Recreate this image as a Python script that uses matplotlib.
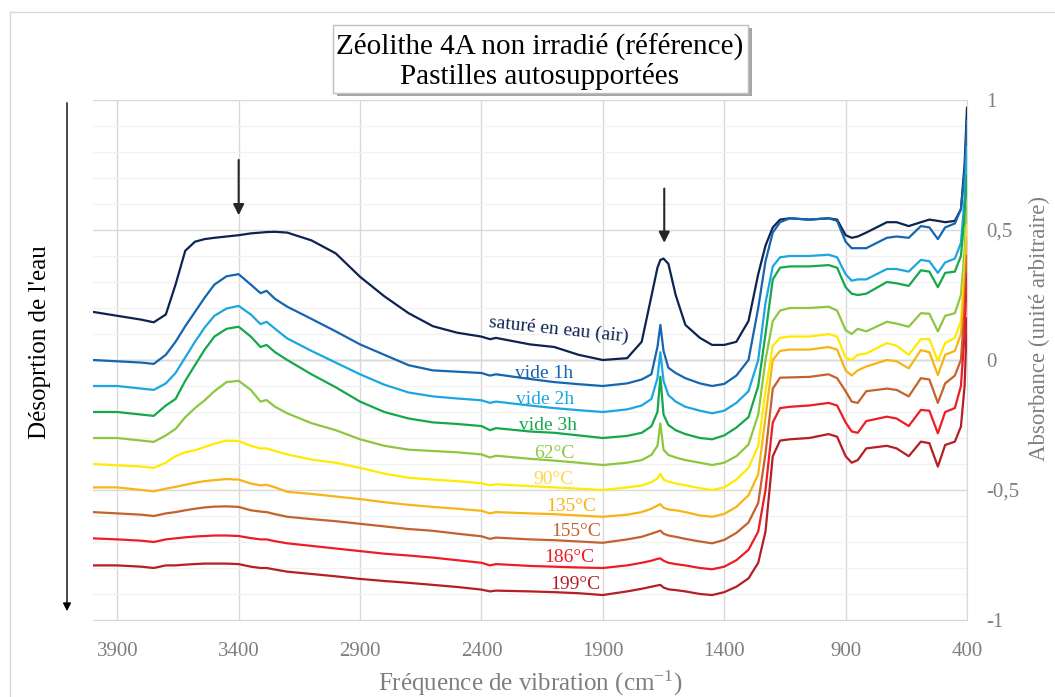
import numpy as np
import matplotlib.pyplot as plt
from matplotlib.patches import Rectangle
from matplotlib.lines import Line2D

plt.rcParams['font.family'] = ['Liberation Serif', 'DejaVu Serif']
plt.rcParams['mathtext.fontset'] = 'stix'

# ===== data (cm-1 / arbitrary absorbance) =====
wavenumber = [4000, 3900, 3800, 3750, 3700, 3660, 3620, 3580, 3540, 3500,
              3450, 3400, 3350, 3310, 3285, 3250, 3200, 3100, 3000, 2900,
              2800, 2700, 2600, 2500, 2400, 2365, 2340, 2200, 2100, 2000,
              1900, 1800, 1740, 1700, 1675, 1663, 1650, 1630, 1600, 1560,
              1500, 1450, 1400, 1350, 1300, 1260, 1230, 1200, 1170, 1130,
              1050, 970, 935, 900, 875, 850, 815, 730, 690, 640,
              590, 555, 520, 490, 450, 425, 410, 400]

sature = [0.185, 0.17, 0.155, 0.145, 0.175, 0.29, 0.42, 0.455, 0.465, 0.47,
          0.475, 0.48, 0.487, 0.49, 0.492, 0.493, 0.49, 0.46, 0.41, 0.32,
          0.245, 0.18, 0.13, 0.105, 0.09, 0.08, 0.085, 0.06, 0.05, 0.02,
          0.0, 0.007, 0.07, 0.245, 0.355, 0.385, 0.39, 0.37, 0.25, 0.135,
          0.085, 0.058, 0.058, 0.07, 0.15, 0.33, 0.44, 0.51, 0.54, 0.545,
          0.54, 0.545, 0.54, 0.48, 0.47, 0.475, 0.49, 0.53, 0.53, 0.515,
          0.53, 0.54, 0.535, 0.53, 0.535, 0.58, 0.75, 0.97]

vide_1h = [0.0, -0.005, -0.01, -0.015, 0.02, 0.07, 0.13, 0.185, 0.24, 0.29,
           0.322, 0.33, 0.29, 0.257, 0.266, 0.235, 0.205, 0.158, 0.11, 0.06,
           0.02, -0.02, -0.04, -0.045, -0.05, -0.06, -0.055, -0.073, -0.085, -0.093,
           -0.10, -0.09, -0.075, -0.055, 0.05, 0.135, 0.035, -0.03, -0.05, -0.07,
           -0.09, -0.10, -0.092, -0.06, 0.0, 0.2, 0.38, 0.49, 0.53, 0.545,
           0.54, 0.545, 0.535, 0.455, 0.43, 0.43, 0.43, 0.47, 0.475, 0.47,
           0.515, 0.51, 0.465, 0.51, 0.525, 0.58, 0.72, 0.92]

vide_2h = [-0.10, -0.10, -0.11, -0.115, -0.09, -0.05, 0.01, 0.07, 0.125, 0.17,
           0.198, 0.208, 0.175, 0.138, 0.147, 0.12, 0.083, 0.035, -0.01, -0.055,
           -0.095, -0.125, -0.14, -0.148, -0.155, -0.165, -0.16, -0.175, -0.185, -0.193,
           -0.20, -0.19, -0.175, -0.15, -0.07, 0.03, -0.08, -0.135, -0.16, -0.18,
           -0.195, -0.205, -0.195, -0.165, -0.12, 0.0, 0.22, 0.36, 0.395, 0.40,
           0.40, 0.405, 0.395, 0.33, 0.305, 0.31, 0.31, 0.35, 0.35, 0.34,
           0.385, 0.38, 0.335, 0.375, 0.39, 0.45, 0.62, 0.82]

vide_3h = [-0.20, -0.20, -0.21, -0.215, -0.175, -0.15, -0.08, -0.02, 0.04, 0.09,
           0.12, 0.128, 0.09, 0.05, 0.058, 0.03, 0.0, -0.055, -0.105, -0.16,
           -0.2, -0.225, -0.24, -0.246, -0.254, -0.27, -0.262, -0.275, -0.28, -0.29,
           -0.30, -0.292, -0.28, -0.255, -0.2, -0.064, -0.21, -0.25, -0.27, -0.285,
           -0.30, -0.305, -0.29, -0.26, -0.22, -0.1, 0.1, 0.31, 0.355, 0.36,
           0.36, 0.365, 0.355, 0.28, 0.255, 0.25, 0.255, 0.30, 0.295, 0.285,
           0.345, 0.34, 0.28, 0.335, 0.34, 0.4, 0.55, 0.71]

t_62 = [-0.30, -0.30, -0.31, -0.315, -0.29, -0.265, -0.22, -0.185, -0.155, -0.12,
        -0.085, -0.08, -0.115, -0.16, -0.154, -0.18, -0.205, -0.243, -0.27, -0.305,
        -0.33, -0.345, -0.35, -0.355, -0.363, -0.375, -0.368, -0.38, -0.387, -0.395,
        -0.404, -0.395, -0.385, -0.365, -0.33, -0.244, -0.345, -0.365, -0.375, -0.385,
        -0.395, -0.404, -0.395, -0.37, -0.325, -0.21, 0.0, 0.15, 0.19, 0.2,
        0.2, 0.205, 0.19, 0.115, 0.10, 0.12, 0.11, 0.147, 0.14, 0.128,
        0.18, 0.178, 0.11, 0.17, 0.18, 0.25, 0.42, 0.59]

t_90 = [-0.40, -0.405, -0.41, -0.415, -0.395, -0.37, -0.355, -0.347, -0.335, -0.322,
        -0.31, -0.312, -0.33, -0.34, -0.34, -0.35, -0.363, -0.383, -0.395, -0.415,
        -0.437, -0.453, -0.46, -0.466, -0.474, -0.482, -0.478, -0.485, -0.49, -0.495,
        -0.50, -0.49, -0.483, -0.47, -0.455, -0.438, -0.46, -0.468, -0.475, -0.482,
        -0.493, -0.50, -0.49, -0.46, -0.415, -0.33, -0.12, 0.055, 0.085, 0.09,
        0.09, 0.10, 0.09, 0.01, 0.0, 0.02, 0.025, 0.065, 0.055, 0.02,
        0.08, 0.08, -0.004, 0.065, 0.085, 0.15, 0.35, 0.52]

t_135 = [-0.49, -0.49, -0.50, -0.505, -0.495, -0.488, -0.48, -0.472, -0.466, -0.462,
         -0.458, -0.46, -0.475, -0.482, -0.48, -0.49, -0.507, -0.515, -0.525, -0.535,
         -0.547, -0.557, -0.565, -0.572, -0.58, -0.59, -0.585, -0.59, -0.593, -0.598,
         -0.603, -0.595, -0.585, -0.572, -0.56, -0.554, -0.568, -0.575, -0.578, -0.585,
         -0.598, -0.603, -0.592, -0.565, -0.52, -0.44, -0.22, 0.0, 0.035, 0.04,
         0.04, 0.05, 0.04, -0.04, -0.06, -0.04, -0.025, 0.0, -0.005, -0.032,
         0.038, 0.03, -0.058, 0.02, 0.035, 0.1, 0.3, 0.47]

t_155 = [-0.585, -0.59, -0.595, -0.6, -0.59, -0.585, -0.578, -0.572, -0.567, -0.564,
         -0.563, -0.565, -0.578, -0.583, -0.585, -0.593, -0.603, -0.612, -0.62, -0.63,
         -0.64, -0.65, -0.657, -0.668, -0.678, -0.688, -0.683, -0.69, -0.693, -0.698,
         -0.703, -0.69, -0.68, -0.668, -0.66, -0.656, -0.668, -0.675, -0.68, -0.688,
         -0.698, -0.705, -0.692, -0.665, -0.625, -0.55, -0.36, -0.11, -0.068, -0.067,
         -0.065, -0.055, -0.07, -0.12, -0.16, -0.165, -0.12, -0.11, -0.115, -0.14,
         -0.07, -0.075, -0.165, -0.09, -0.06, 0.0, 0.2, 0.4]

t_186 = [-0.686, -0.69, -0.695, -0.7, -0.69, -0.686, -0.682, -0.679, -0.677, -0.675,
         -0.675, -0.677, -0.685, -0.69, -0.69, -0.697, -0.705, -0.715, -0.725, -0.735,
         -0.745, -0.752, -0.76, -0.77, -0.78, -0.79, -0.785, -0.792, -0.795, -0.798,
         -0.80, -0.79, -0.78, -0.772, -0.765, -0.763, -0.772, -0.78, -0.785, -0.79,
         -0.80, -0.805, -0.795, -0.77, -0.73, -0.66, -0.5, -0.24, -0.185, -0.18,
         -0.175, -0.165, -0.175, -0.24, -0.275, -0.28, -0.235, -0.218, -0.225, -0.254,
         -0.192, -0.195, -0.282, -0.2, -0.185, -0.1, 0.1, 0.33]

t_199 = [-0.79, -0.79, -0.795, -0.8, -0.79, -0.79, -0.787, -0.785, -0.783, -0.783,
         -0.783, -0.785, -0.795, -0.8, -0.8, -0.806, -0.814, -0.823, -0.832, -0.842,
         -0.85, -0.857, -0.865, -0.873, -0.883, -0.89, -0.887, -0.89, -0.893, -0.897,
         -0.904, -0.89, -0.88, -0.872, -0.867, -0.865, -0.875, -0.882, -0.885, -0.89,
         -0.90, -0.904, -0.893, -0.872, -0.84, -0.78, -0.66, -0.37, -0.31, -0.305,
         -0.30, -0.285, -0.295, -0.37, -0.395, -0.385, -0.34, -0.33, -0.34, -0.37,
         -0.314, -0.32, -0.41, -0.327, -0.314, -0.256, -0.1, 0.16]

labels = ['saturé en eau (air)', 'vide 1h', 'vide 2h', 'vide 3h', '62°C',
          '90°C', '135°C', '155°C', '186°C', '199°C']
series = [sature, vide_1h, vide_2h, vide_3h, t_62, t_90, t_135, t_155, t_186, t_199]
line_colors = ['#0D2352', '#1565B0', '#1BA6E1', '#14A84B', '#8DC63F',
               '#FFEA00', '#F7B514', '#C4622D', '#EE1C25', '#B51E24']
text_colors = ['#0D2352', '#1565B0', '#1BA6E1', '#14A84B', '#8DC63F',
               '#FFD54F', '#F7B514', '#C4622D', '#EE1C25', '#B51E24']
# label anchor positions (cm-1, absorbance)
label_x = [2083, 2141, 2137, 2124, 2099, 2104, 2030, 2009, 2038, 2013]
label_y = [0.115, -0.05, -0.15, -0.25, -0.358, -0.46, -0.565, -0.658, -0.758, -0.862]

W, H = 1055, 697
fig = plt.figure(figsize=(W / 100, H / 100), dpi=100)
ax = fig.add_axes([93 / W, 77 / H, 874 / W, 520 / H])

for ys, c in zip(series, line_colors):
    ax.plot(wavenumber, ys, color=c, lw=1.6, solid_joinstyle='round')

for lab, x, y, c in zip(labels, label_x, label_y, text_colors):
    rot = -6 if lab.startswith('satur') else 0
    ax.text(x, y, lab, color=c, fontsize=14, ha='center', va='center',
            rotation=rot, rotation_mode='anchor')

# arrows on the water bands
arrow_kw = dict(arrowstyle='-|>', color='#262626', lw=1.5, mutation_scale=16)
ax.annotate('', xy=(3400, 0.546), xytext=(3400, 0.78), arrowprops=arrow_kw)
ax.annotate('', xy=(1647, 0.44), xytext=(1647, 0.67), arrowprops=arrow_kw)

ax.set_xlim(4000, 400)
ax.set_ylim(-1, 1)
ax.set_xticks(np.arange(3900, 399, -500))
ax.set_yticks([-1, -0.5, 0, 0.5, 1], ['-1', '-0,5', '0', '0,5', '1'])
ax.set_yticks(np.arange(-1, 1.01, 0.1), minor=True)
ax.yaxis.tick_right()
ax.set_axisbelow(True)
ax.grid(which='major', color='#D9D9D9', lw=1)
ax.grid(which='minor', axis='y', color='#F2F2F2', lw=1)
ax.axhline(0, color='#BFBFBF', lw=1, zorder=0.5)
ax.tick_params(which='both', length=0, colors='#7F7F7F', labelsize=15)
ax.tick_params(axis='x', pad=16)
ax.tick_params(axis='y', pad=14)
for s in ['top', 'left']:
    ax.spines[s].set_visible(False)
for s in ['right', 'bottom']:
    ax.spines[s].set_color('#D9D9D9')

ax.set_xlabel('Fréquence de vibration (cm$^{\\mathregular{-1}}$)',
              fontsize=18, color='#7F7F7F', va='center')
ax.xaxis.set_label_coords(0.5, -0.121)
ax.yaxis.set_label_position('right')
ax.set_ylabel('Absorbance (unité arbitraire)', fontsize=16.5, color='#7F7F7F',
              rotation=90, va='center', ha='center')
ax.yaxis.set_label_coords(1.083, 0.56)

# left: desorption arrow and text
ax.annotate('', xy=(67, H - 614), xytext=(67, H - 100), xycoords='figure pixels',
            arrowprops=dict(arrowstyle='-|>', color='black', lw=1, mutation_scale=12))
fig.text(40 / W, 1 - 342 / H, "Désoprtion de l'eau", rotation=90, fontsize=18,
         ha='center', va='center')

# title box with shadow
fig.patches.append(Rectangle((337 / W, 1 - 96 / H), 415 / W, 68 / H, transform=fig.transFigure,
                             facecolor='#A6A6A6', edgecolor='none', zorder=1))
fig.patches.append(Rectangle((333 / W, 1 - 93 / H), 415 / W, 68 / H, transform=fig.transFigure,
                             facecolor='white', edgecolor='#BFBFBF', lw=1, zorder=2))
fig.text(540 / W, 1 - 46 / H, 'Zéolithe 4A non irradié (référence)', fontsize=21,
         ha='center', va='center', zorder=3)
fig.text(540 / W, 1 - 76 / H, 'Pastilles autosupportées', fontsize=21,
         ha='center', va='center', zorder=3)

# chart area border
fig.add_artist(Line2D([10 / W, 10 / W], [0, 1 - 12 / H], transform=fig.transFigure, color='#D9D9D9', lw=1))
fig.add_artist(Line2D([10 / W, 1], [1 - 12 / H, 1 - 12 / H], transform=fig.transFigure, color='#D9D9D9', lw=1))

fig.savefig('out.png', dpi=100)
